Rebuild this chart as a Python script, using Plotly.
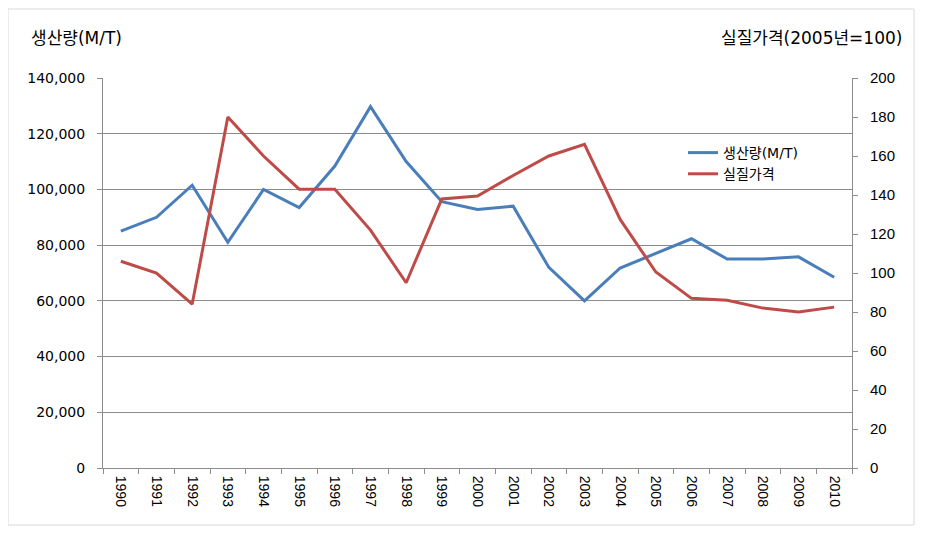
import plotly.graph_objects as go

years = [str(y) for y in range(1990, 2011)]
production = [85000, 90000, 101500, 81000, 100000, 93500, 108400, 129700, 110000, 95600,
              92800, 94000, 72000, 60000, 71800, 77000, 82300, 75000, 75000, 75800, 68500]
real_price = [106, 100, 84, 180, 160, 143, 143, 122, 95, 138,
              139.5, 150, 160, 166, 127.5, 100.5, 87, 86, 82, 80, 82.5]

left_ticks = list(range(0, 140001, 20000))
right_ticks = list(range(0, 201, 20))

BLUE = "#4A7EBB"
RED = "#BE4B48"
GRID = "#8C8C8C"
LFONT = "Liberation Sans, Arial, sans-serif"
DFONT = "DejaVu Sans, sans-serif"
KFONT = "DejaVu Sans, Noto Sans CJK KR, sans-serif"

# page offset compensation (browser body margin)
OX, OY = 8, 8
W, H = 925 - OX, 536 - OY
PL, PR, PT, PB = 103 - OX, 852 - OX, 78 - OY, 468 - OY
PW, PH = PR - PL, PB - PT


def px(x):
    return (x - OX - PL) / PW


def py(y):
    return (PB - (y - OY)) / PH


fig = go.Figure()
fig.add_trace(go.Scatter(x=years, y=production, name="생산량(M/T)", mode="lines",
                         line=dict(color=BLUE, width=3), yaxis="y"))
fig.add_trace(go.Scatter(x=years, y=real_price, name="실질가격", mode="lines",
                         line=dict(color=RED, width=3), yaxis="y2"))

fig.update_layout(
    width=W, height=H,
    margin=dict(l=PL, r=W - PR, t=PT, b=H - PB),
    paper_bgcolor="white", plot_bgcolor="white",
    font=dict(family=LFONT, size=13, color="#000000"),
    xaxis=dict(type="category", range=[-0.5, 20.5], tickangle=90, ticks="outside",
               tickson="boundaries", ticklen=5, tickcolor=GRID, showline=True,
               linecolor=GRID, linewidth=1, showgrid=False,
               tickfont=dict(size=14, family=LFONT), ticklabelstandoff=4),
    yaxis=dict(range=[0, 140000], tickvals=left_ticks, tickformat=",", showgrid=True,
               gridcolor=GRID, gridwidth=1, showline=True, linecolor=GRID,
               ticks="outside", ticklen=5, tickcolor=GRID, zeroline=False,
               tickfont=dict(size=14, family=DFONT), ticklabelstandoff=9),
    yaxis2=dict(range=[0, 200], tickvals=right_ticks, overlaying="y", side="right",
                showgrid=False, showline=True, linecolor=GRID, ticks="outside",
                ticklen=5, tickcolor=GRID, zeroline=False,
                tickfont=dict(size=15, family=LFONT), ticklabelstandoff=9),
    legend=dict(x=px(683), y=py(137), xanchor="left", yanchor="top",
                bgcolor="rgba(255,255,255,0)", font=dict(family=KFONT, size=14),
                tracegroupgap=0, itemwidth=30),
    showlegend=True,
)

fig.add_annotation(text="생산량(M/T)", xref="paper", yref="paper",
                   x=px(29), y=py(38), xanchor="left", yanchor="middle",
                   showarrow=False, font=dict(family=KFONT, size=17, color="#000"))
fig.add_annotation(text="실질가격(2005년=100)", xref="paper", yref="paper",
                   x=px(904), y=py(38), xanchor="right", yanchor="middle",
                   showarrow=False, font=dict(family=KFONT, size=17, color="#000"))

fig.add_shape(type="rect", xref="paper", yref="paper",
              x0=px(8), x1=px(914), y0=py(525), y1=py(9),
              line=dict(color="#D9D9D9", width=1), fillcolor="rgba(0,0,0,0)", layer="below")

fig.write_html("out.html")
